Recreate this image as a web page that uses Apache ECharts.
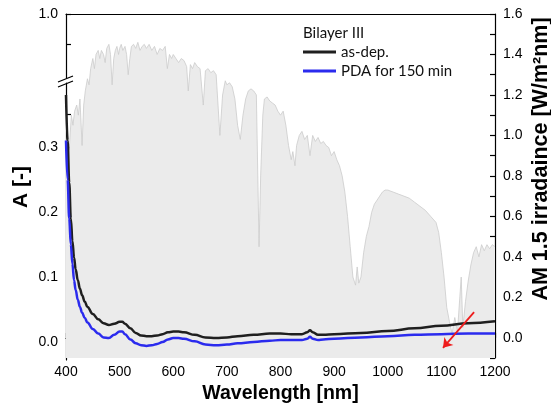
<!DOCTYPE html>
<html><head><meta charset="utf-8">
<script src="https://cdn.jsdelivr.net/npm/echarts@6/dist/echarts.min.js"></script>
<style>html,body{margin:0;padding:0;background:#fff}#c{width:551px;height:409px}</style>
</head><body><div id="c"></div>
<script>
// Absorbance data (left axis, A [-])
const absWl = [400,403,406,409,412,415,418,422,426,430,435,440,450,460,470,480,490,500,505,510,520,530,540,550,560,570,580,590,600,610,620,640,660,680,700,720,750,780,800,820,840,850,855,860,870,880,900,950,1000,1050,1100,1150,1200];
const asDep = [0.38,0.31,0.245,0.19,0.155,0.13,0.112,0.095,0.082,0.072,0.062,0.054,0.043,0.035,0.029,0.026,0.028,0.031,0.031,0.028,0.021,0.014,0.010,0.009,0.009,0.010,0.012,0.015,0.016,0.016,0.015,0.011,0.007,0.006,0.007,0.009,0.011,0.013,0.013,0.012,0.012,0.015,0.018,0.015,0.011,0.011,0.012,0.014,0.017,0.021,0.025,0.029,0.032];
const pda = [0.31,0.25,0.19,0.15,0.12,0.095,0.08,0.065,0.054,0.045,0.037,0.030,0.020,0.013,0.007,0.006,0.011,0.016,0.016,0.012,0.004,-0.002,-0.005,-0.006,-0.005,-0.003,0.000,0.004,0.006,0.006,0.005,0.001,-0.004,-0.005,-0.004,-0.002,0.000,0.002,0.003,0.003,0.003,0.005,0.008,0.005,0.003,0.004,0.005,0.007,0.009,0.011,0.012,0.013,0.013];

// AM 1.5 irradiance (right axis, W/m2nm)
const irrWl = [400,403,406,410,413,416,420,423,426,430,433,436,440,443,446,450,453,456,460,463,466,470,473,476,480,483,486,489,492,495,498,500,503,506,510,513,516,519,522,526,530,534,538,542,546,550,555,560,565,570,575,580,585,589,593,597,600,605,610,615,620,625,628,632,636,640,645,650,656,660,665,670,675,680,687,692,697,700,705,710,715,720,725,730,735,740,745,750,755,760,763,767,770,775,780,785,790,795,800,805,810,815,820,823,827,830,835,840,845,850,855,860,865,870,875,880,885,890,895,900,905,910,915,920,925,930,935,940,943,946,950,955,960,965,970,975,980,985,990,995,1000,1010,1020,1030,1040,1050,1060,1070,1080,1090,1095,1100,1105,1110,1115,1120,1125,1130,1137,1140,1145,1150,1155,1160,1165,1170,1175,1180,1185,1190,1195,1200];
const irrVal = [0.95,1.00,0.93,1.10,1.05,1.12,1.15,1.10,1.18,0.95,1.15,1.22,1.28,1.25,1.33,1.38,1.33,1.40,1.42,1.38,1.42,1.40,1.36,1.43,1.45,1.40,1.25,1.38,1.42,1.44,1.40,1.43,1.45,1.42,1.44,1.40,1.30,1.38,1.44,1.45,1.43,1.46,1.42,1.44,1.45,1.43,1.45,1.42,1.44,1.40,1.43,1.42,1.44,1.33,1.40,1.38,1.40,1.38,1.36,1.38,1.37,1.34,1.22,1.35,1.33,1.36,1.34,1.33,1.15,1.32,1.33,1.31,1.32,1.30,1.00,1.20,1.27,1.25,1.26,1.24,1.18,1.05,0.98,1.10,1.18,1.22,1.23,1.22,1.20,0.45,0.80,1.10,1.18,1.19,1.17,1.16,1.15,1.12,1.10,1.12,1.05,0.95,0.88,0.92,0.85,0.95,1.00,1.02,0.98,1.00,0.90,1.00,0.97,0.99,0.96,0.97,0.95,0.94,0.90,0.92,0.88,0.85,0.80,0.72,0.60,0.45,0.30,0.26,0.35,0.27,0.30,0.42,0.50,0.55,0.62,0.66,0.68,0.70,0.72,0.73,0.73,0.72,0.71,0.70,0.69,0.67,0.65,0.63,0.60,0.57,0.52,0.42,0.30,0.15,0.08,0.02,0.10,0.03,0.30,0.05,0.18,0.28,0.36,0.42,0.45,0.40,0.46,0.43,0.46,0.44,0.46,0.45];

const leftLabels = [0, 0.1, 0.2, 0.3];
const leftTicks = [0, 0.05, 0.1, 0.15, 0.2, 0.25, 0.3, 0.35];
const upperLabels = [1.0];
const upperTicks = [0.9, 1.0];
const seriesNames = ['as-dep.', 'PDA for 150 min'];
const arrowFrom = [1161, 0.046];
const arrowTo = [1103, -0.009];

const FONT = 'Liberation Sans, Arial, sans-serif';
const axisLine = {show: true, lineStyle: {color: '#000', width: 1.2}};
const tick = {show: true, inside: true, length: 5, lineStyle: {color: '#000', width: 1.2}};
const lbl = {color: '#000', fontSize: 14, fontFamily: FONT};

const chart = echarts.init(document.getElementById('c'), null, {renderer: 'canvas'});
chart.setOption({
  animation: false,
  backgroundColor: '#fff',
  title: {text: 'Bilayer III', left: 298, top: 21, textStyle: {fontFamily: 'Lato', fontSize: 15, fontWeight: 'normal', color: '#111'}},
  legend: {
    data: seriesNames.map(n => ({name: n, icon: 'rect'})), orient: 'vertical', left: 303, top: 43, padding: 0,
    itemWidth: 33, itemHeight: 3, itemGap: 1,
    textStyle: {fontFamily: 'Lato', fontSize: 15, color: '#111', lineHeight: 18}
  },
  grid: [
    {left: 66, right: 56, top: 14, bottom: 49},
    {left: 66, right: 56, top: 83, bottom: 49},
    {left: 66, right: 56, top: 14, height: 64}
  ],
  xAxis: [
    {gridIndex: 0, type: 'value', min: 400, max: 1200, interval: 50, position: 'bottom',
     axisLine, axisTick: tick, splitLine: {show: false},
     axisLabel: Object.assign({}, lbl, {margin: 7, formatter: v => (v % 100 === 0 ? String(v) : '')}),
     name: 'Wavelength [nm]', nameLocation: 'middle', nameGap: 26,
     nameTextStyle: {fontFamily: FONT, fontSize: 19.5, fontWeight: 'bold', color: '#000'}},
    {gridIndex: 0, type: 'value', min: 400, max: 1200, position: 'top',
     axisLine, axisTick: {show: false}, axisLabel: {show: false}, splitLine: {show: false}},
    {gridIndex: 1, type: 'value', min: 400, max: 1200, show: false},
    {gridIndex: 2, type: 'value', min: 400, max: 1200, show: false}
  ],
  yAxis: [
    {gridIndex: 0, type: 'value', min: -0.1, max: 1.6, interval: 0.1, position: 'right',
     axisLine, axisTick: tick, splitLine: {show: false},
     axisLabel: Object.assign({}, lbl, {margin: 8, formatter: v => {
       const k = Math.round(v * 10);
       return (k >= 0 && k % 2 === 0) ? (k / 10).toFixed(1) : '';
     }})},
    {gridIndex: 1, type: 'value', min: -0.0277, max: 0.3985, position: 'left',
     axisLine, splitLine: {show: false},
     axisTick: Object.assign({}, tick, {customValues: leftTicks}),
     axisLabel: Object.assign({}, lbl, {margin: 8, customValues: leftLabels, formatter: v => v.toFixed(1)})},
    {gridIndex: 2, type: 'value', min: 0.787, max: 1.0, position: 'left',
     axisLine, splitLine: {show: false},
     axisTick: Object.assign({}, tick, {customValues: upperTicks}),
     axisLabel: Object.assign({}, lbl, {margin: 8, customValues: upperLabels, formatter: v => v.toFixed(1)})}
  ],
  graphic: [
    {type: 'line', shape: {x1: 58, y1: 82, x2: 73, y2: 76}, style: {stroke: '#000', lineWidth: 1.2}, z: 100},
    {type: 'line', shape: {x1: 58, y1: 87, x2: 73, y2: 81}, style: {stroke: '#000', lineWidth: 1.2}, z: 100},
    {type: 'text', x: 21, y: 187, rotation: Math.PI / 2, z: 100,
     style: {text: 'A [-]', fontFamily: FONT, fontSize: 21, fontWeight: 'bold', fill: '#000', align: 'center', verticalAlign: 'middle'}},
    {type: 'text', x: 541, y: 159, rotation: Math.PI / 2, z: 100,
     style: {text: 'AM 1.5 irradaince [W/m²nm]', fontFamily: FONT, fontSize: 21.5, fontWeight: 'bold', fill: '#000', align: 'center', verticalAlign: 'middle'}}
  ],
  series: [
    {name: 'AM 1.5', type: 'line', xAxisIndex: 0, yAxisIndex: 0, symbol: 'none', silent: true,
     data: irrWl.map((w, i) => [w, irrVal[i]]),
     lineStyle: {color: '#cbcbcb', width: 0.8},
     areaStyle: {color: '#ebebeb', opacity: 1, origin: 'start'}, z: 1},
    {name: seriesNames[0], type: 'line', xAxisIndex: 2, yAxisIndex: 1, symbol: 'none', smooth: 0.4, smoothMonotone: 'x',
     data: absWl.map((w, i) => [w, asDep[i]]), itemStyle: {color: '#1f1f1f'},
     lineStyle: {color: '#1f1f1f', width: 2.5}, z: 3},
    {name: seriesNames[1], type: 'line', xAxisIndex: 2, yAxisIndex: 1, symbol: 'none', smooth: 0.4, smoothMonotone: 'x',
     data: absWl.map((w, i) => [w, pda[i]]), itemStyle: {color: '#2b2bee'},
     lineStyle: {color: '#2b2bee', width: 2.5}, z: 4,
     markLine: {silent: true, symbol: ['none', 'arrow'], symbolSize: 9, label: {show: false},
       lineStyle: {color: '#ee1c1c', width: 1.8, type: 'solid'},
       data: [[{coord: arrowFrom}, {coord: arrowTo}]]}}
  ]
});
</script></body></html>
